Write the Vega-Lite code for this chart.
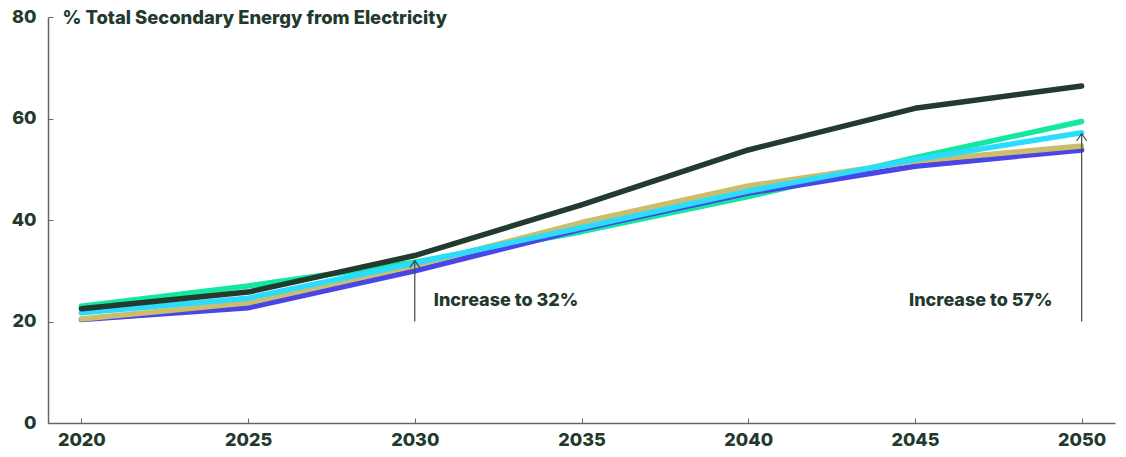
{
  "$schema": "https://vega.github.io/schema/vega-lite/v6.json",
  "width": 1067,
  "height": 406,
  "autosize": {"type": "none"},
  "padding": {"left": 48, "top": 17, "right": 11, "bottom": 34},
  "background": "white",
  "config": {
    "view": {"stroke": null},
    "font": "Inter",
    "axis": {
      "grid": false,
      "domainColor": "#5b6b63",
      "domainWidth": 1.5,
      "tickColor": "#5b6b63",
      "tickWidth": 1,
      "tickSize": -5,
      "labelFont": "Inter",
      "labelFontWeight": 800,
      "labelFontSize": 18,
      "labelColor": "#22392d"
    }
  },
  "datasets": {
    "series": [
      {"scenario": "Scenario A", "year": 2020, "share": 23.0},
      {"scenario": "Scenario A", "year": 2025, "share": 27.0},
      {"scenario": "Scenario A", "year": 2030, "share": 31.7},
      {"scenario": "Scenario A", "year": 2035, "share": 37.7},
      {"scenario": "Scenario A", "year": 2040, "share": 44.6},
      {"scenario": "Scenario A", "year": 2045, "share": 52.3},
      {"scenario": "Scenario A", "year": 2050, "share": 59.4},
      {"scenario": "Scenario B", "year": 2020, "share": 20.4},
      {"scenario": "Scenario B", "year": 2025, "share": 22.7},
      {"scenario": "Scenario B", "year": 2030, "share": 30.0},
      {"scenario": "Scenario B", "year": 2035, "share": 38.2},
      {"scenario": "Scenario B", "year": 2040, "share": 45.3},
      {"scenario": "Scenario B", "year": 2045, "share": 50.6},
      {"scenario": "Scenario B", "year": 2050, "share": 53.8},
      {"scenario": "Scenario C", "year": 2020, "share": 20.5},
      {"scenario": "Scenario C", "year": 2025, "share": 23.7},
      {"scenario": "Scenario C", "year": 2030, "share": 31.0},
      {"scenario": "Scenario C", "year": 2035, "share": 39.5},
      {"scenario": "Scenario C", "year": 2040, "share": 46.7},
      {"scenario": "Scenario C", "year": 2045, "share": 51.6},
      {"scenario": "Scenario C", "year": 2050, "share": 54.6},
      {"scenario": "Scenario D", "year": 2020, "share": 21.7},
      {"scenario": "Scenario D", "year": 2025, "share": 24.6},
      {"scenario": "Scenario D", "year": 2030, "share": 31.5},
      {"scenario": "Scenario D", "year": 2035, "share": 38.5},
      {"scenario": "Scenario D", "year": 2040, "share": 45.7},
      {"scenario": "Scenario D", "year": 2045, "share": 51.9},
      {"scenario": "Scenario D", "year": 2050, "share": 57.2},
      {"scenario": "Scenario E", "year": 2020, "share": 22.5},
      {"scenario": "Scenario E", "year": 2025, "share": 25.8},
      {"scenario": "Scenario E", "year": 2030, "share": 33.0},
      {"scenario": "Scenario E", "year": 2035, "share": 43.0},
      {"scenario": "Scenario E", "year": 2040, "share": 53.8},
      {"scenario": "Scenario E", "year": 2045, "share": 62.0},
      {"scenario": "Scenario E", "year": 2050, "share": 66.4}
    ],
    "notes": [
      {"year": 2030, "from": 20, "to": 32, "label": "Increase to 32%", "labelY": 24.0, "side": "left"},
      {"year": 2050, "from": 20, "to": 57, "label": "Increase to 57%", "labelY": 24.0, "side": "right"}
    ]
  },
  "layer": [
    {
      "data": {"name": "series"},
      "mark": {"type": "line", "strokeWidth": 5.5, "strokeCap": "round", "strokeJoin": "round"},
      "encoding": {
        "x": {
          "field": "year", "type": "quantitative",
          "scale": {"domain": [2019, 2051], "nice": false, "zero": false},
          "axis": {"values": [2020, 2025, 2030, 2035, 2040, 2045, 2050], "format": "d", "title": null, "labelPadding": 13}
        },
        "y": {
          "field": "share", "type": "quantitative",
          "scale": {"domain": [0, 80], "nice": false},
          "axis": {
            "values": [0, 20, 40, 60, 80],
            "labelPadding": 17,
            "title": "% Total Secondary Energy from Electricity",
            "titleAngle": 0,
            "titleX": 14,
            "titleY": 0,
            "titleAlign": "left",
            "titleBaseline": "middle",
            "titleFont": "Inter",
            "titleFontWeight": 800,
            "titleFontSize": 18.4,
            "titleColor": "#22392d"
          }
        },
        "color": {
          "field": "scenario", "type": "nominal", "legend": null,
          "scale": {
            "domain": ["Scenario A", "Scenario B", "Scenario C", "Scenario D", "Scenario E"],
            "range": ["#12e8a0", "#4a45e6", "#cbbd6b", "#2bdcff", "#223b2e"]
          }
        },
        "order": {"field": "year"}
      }
    },
    {
      "data": {"name": "notes"},
      "mark": {"type": "rule", "color": "#3a4c42", "strokeWidth": 1.2},
      "encoding": {
        "x": {"field": "year", "type": "quantitative"},
        "y": {"field": "from", "type": "quantitative"},
        "y2": {"field": "to"}
      }
    },
    {
      "data": {"name": "notes"},
      "mark": {"type": "point", "shape": "M-1,1.4L0,0L1,1.4", "filled": false, "size": 100, "stroke": "#3a4c42", "strokeWidth": 1.2, "opacity": 1},
      "encoding": {
        "x": {"field": "year", "type": "quantitative"},
        "y": {"field": "to", "type": "quantitative"}
      }
    },
    {
      "data": {"name": "notes"},
      "transform": [{"filter": "datum.side === 'left'"}],
      "mark": {"type": "text", "align": "left", "baseline": "middle", "dx": 19, "font": "Inter", "fontWeight": 800, "fontSize": 18, "color": "#22392d"},
      "encoding": {
        "x": {"field": "year", "type": "quantitative"},
        "y": {"field": "labelY", "type": "quantitative"},
        "text": {"field": "label"}
      }
    },
    {
      "data": {"name": "notes"},
      "transform": [{"filter": "datum.side === 'right'"}],
      "mark": {"type": "text", "align": "right", "baseline": "middle", "dx": -29, "font": "Inter", "fontWeight": 800, "fontSize": 18, "color": "#22392d"},
      "encoding": {
        "x": {"field": "year", "type": "quantitative"},
        "y": {"field": "labelY", "type": "quantitative"},
        "text": {"field": "label"}
      }
    }
  ]
}
